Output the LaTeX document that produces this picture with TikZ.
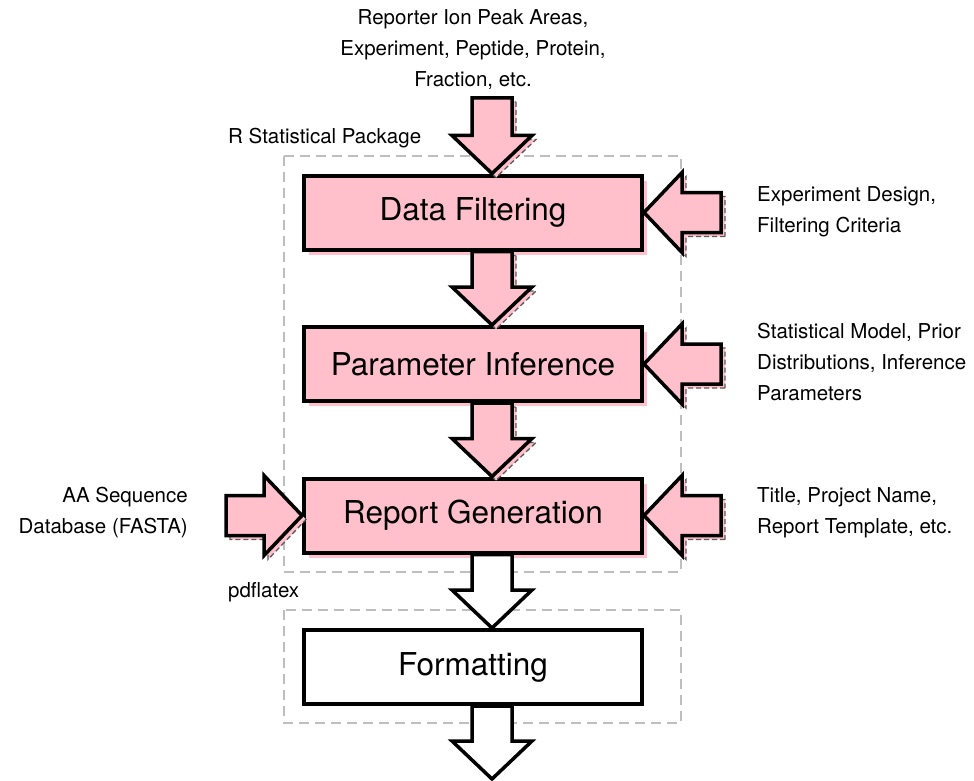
\documentclass[tikz,border=0pt]{standalone}
\usepackage{fontspec}
\setmainfont{TeX Gyre Heros}
\usetikzlibrary{calc,positioning,shadows}
\definecolor{rose}{HTML}{FFC0CB}
\definecolor{framec}{HTML}{BEBEBE}
\definecolor{shadec}{HTML}{5A5A5A}
\tikzset{
  stage/.style={rectangle, draw=black, line width=4pt, minimum width=338pt, minimum height=74pt,
                inner sep=0pt, font=\fontsize{31.5}{36}\selectfont},
  stagep/.style={stage, fill=rose,
                 drop shadow={shadow xshift=5pt, shadow yshift=-5pt, fill=rose, draw=none, opacity=1}},
  stagew/.style={stage, fill=white},
  % fat outlined arrow: 40pt shaft, 80pt head, 38pt head length
  blk/.style={draw=black, line width=3.5pt, to path={
      ($(\tikztostart)!20pt!90:(\tikztotarget)$)
      -- ($(\tikztotarget)!38pt!(\tikztostart)!20pt!-90:(\tikztostart)$)
      -- ($(\tikztotarget)!38pt!(\tikztostart)!40pt!-90:(\tikztostart)$)
      -- (\tikztotarget)
      -- ($(\tikztotarget)!38pt!(\tikztostart)!40pt!90:(\tikztostart)$)
      -- ($(\tikztotarget)!38pt!(\tikztostart)!20pt!90:(\tikztostart)$)
      -- ($(\tikztostart)!20pt!-90:(\tikztotarget)$)
      -- cycle}},
  blkp/.style={blk, fill=rose,
               drop shadow={shadow xshift=4pt, shadow yshift=-4pt, fill=rose, draw=shadec,
                            line width=1.3pt, dash pattern=on 5pt off 3pt, opacity=1}},
  blkw/.style={blk, fill=white},
  note/.style={font=\fontsize{20.5}{31}\selectfont, inner sep=0pt},
  grp/.style={draw=framec, line width=1.5pt, dash pattern=on 10pt off 6pt},
}

\begin{document}
\begin{tikzpicture}[x=1pt, y=-1pt, node distance=73.5pt]
  \useasboundingbox (0,0) rectangle (974,781);
  % the two tool frames
  \draw[grp] (284,156) rectangle (681,572);
  \draw[grp] (284,610) rectangle (681,723);
  \node[note, anchor=west] (rlab) at (228,138) {R Statistical Package};
  \node[note, anchor=west] (plab) at (228,592) {pdflatex};

  % processing stages
  \node[stagep] (df) at (473,212.5) {Data Filtering};
  \node[stagep, below=of df] (pi) {Parameter Inference};
  \node[stagep, below=of pi] (rg) {Report Generation};
  \node[stagew, below=of rg] (fm) {Formatting};

  % inputs
  \node[note, align=center] (raw) at (473,50)
    {Reporter Ion Peak Areas,\\Experiment, Peptide, Protein,\\Fraction, etc.};
  \node[note, align=left, anchor=west] (design) at (757,212)
    {Experiment Design,\\Filtering Criteria};
  \node[note, align=left, anchor=west] (model) at (757,362)
    {Statistical Model, Prior\\Distributions, Inference\\Parameters};
  \node[note, align=left, anchor=west] (title) at (757,513)
    {Title, Project Name,\\Report Template, etc.};
  \node[note, align=right, anchor=east] (fasta) at (188,513)
    {AA Sequence\\Database (FASTA)};

  \coordinate (in) at (492,98);
  \coordinate (out) at (492,779);
  \coordinate (dfin) at ([xshift=77pt]df.east);
  \coordinate (piin) at ([xshift=77pt]pi.east);
  \coordinate (rgin) at ([xshift=77pt]rg.east);
  \coordinate (seqin) at ([xshift=-76pt]rg.west);

  % flow
  \draw[blkp] (in) to (df.north -| in);
  \draw[blkp] (df.south -| in) to (pi.north -| in);
  \draw[blkp] (pi.south -| in) to (rg.north -| in);
  \draw[blkw] (rg.south -| in) to (fm.north -| in);
  \draw[blkw] (fm.south -| in) to (out);
  \draw[blkp] (dfin) to (df.east);
  \draw[blkp] (piin) to (pi.east);
  \draw[blkp] (rgin) to (rg.east);
  \draw[blkp] (seqin) to (rg.west);
\end{tikzpicture}
\end{document}
